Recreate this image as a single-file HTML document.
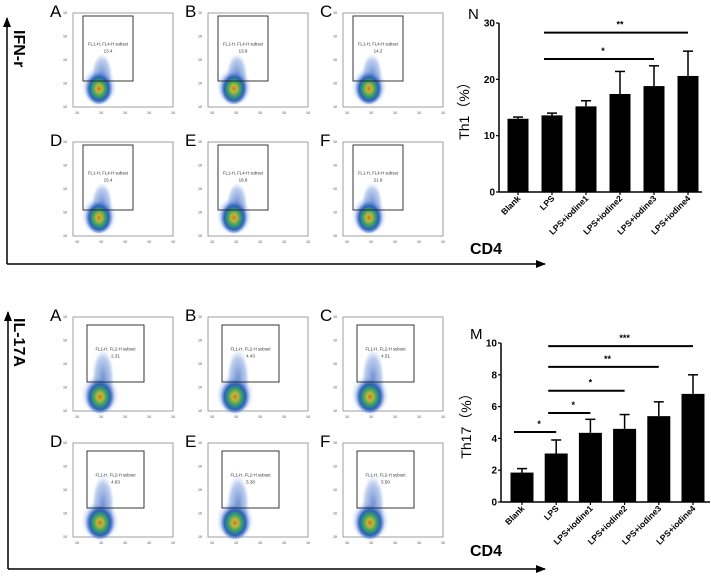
<!DOCTYPE html>
<html><head><meta charset="utf-8"><style>
html,body{margin:0;padding:0;background:#fff;}
svg{display:block;font-family:"Liberation Sans",Arial,sans-serif;}
</style></head><body>
<svg id="fig" width="711" height="577" viewBox="0 0 711 577" xmlns="http://www.w3.org/2000/svg">
<defs>
<radialGradient id="blob" cx="50%" cy="55%" r="50%">
<stop offset="0" stop-color="#d07020"/>
<stop offset="0.2" stop-color="#c0b838"/>
<stop offset="0.45" stop-color="#38a068"/>
<stop offset="0.7" stop-color="#2a60b8"/>
<stop offset="1" stop-color="#7090e0" stop-opacity="0"/>
</radialGradient>
<radialGradient id="haze" cx="50%" cy="50%" r="50%">
<stop offset="0" stop-color="#3a68c0" stop-opacity="0.75"/>
<stop offset="0.7" stop-color="#6a90d8" stop-opacity="0.45"/>
<stop offset="1" stop-color="#a0b8ec" stop-opacity="0"/>
</radialGradient>
<marker id="arr" markerWidth="10" markerHeight="8" refX="9" refY="4" orient="auto" markerUnits="userSpaceOnUse"><path d="M0,0 L10,4 L0,8 z" fill="#000"/></marker>
</defs>
<g>
<line x1="7" y1="264" x2="7" y2="18" stroke="#000" stroke-width="1.5" marker-end="url(#arr)"/>
<line x1="7" y1="264" x2="545" y2="264" stroke="#000" stroke-width="1.5" marker-end="url(#arr)"/>
<text transform="translate(14,30) rotate(90)" font-size="16" font-weight="bold">IFN-r</text>
</g>
<g>
<line x1="8" y1="569" x2="8" y2="312" stroke="#000" stroke-width="1.5" marker-end="url(#arr)"/>
<line x1="8" y1="569" x2="545" y2="569" stroke="#000" stroke-width="1.5" marker-end="url(#arr)"/>
<text transform="translate(14,318) rotate(90)" font-size="16" font-weight="bold">IL-17A</text>
</g>
<g id="flows"></g>
<g id="chartN"></g>
<g id="chartM"></g>
</svg>
<script>
const NS="http://www.w3.org/2000/svg";
function mk(p,tag,at,txt){const e=document.createElementNS(NS,tag);for(const k in at)e.setAttribute(k,at[k]);if(txt!==undefined)e.textContent=txt;p.appendChild(e);return e;}

const flowLetters=["A","B","C","D","E","F"];
const ifnValues=["13.4","13.9","14.2","15.4","18.9","21.9"];
const il17Values=["2.31","4.43","4.51","4.83","5.38","5.50"];
const flows=document.getElementById('flows');
function panel(x0,y0,letter,gateName,val,gx,gy,gw,gh,bx,by,brx,bry,top){
  const g=mk(flows,'g',{});
  
  
  const L=mk(g,'text',{x:x0-23,y:y0+4,'font-size':17},letter);
  
  mk(g,'rect',{x:x0,y:y0,width:100,height:94,fill:'none',stroke:'#888','stroke-width':0.8});
  mk(g,'ellipse',{cx:x0+bx+3,cy:top,rx:brx*0.75,ry:(y0+by-top)*0.9,fill:'url(#haze)',transform:`translate(0,${(y0+by-top)*0.5})`});
  mk(g,'ellipse',{cx:x0+bx,cy:y0+by,rx:brx*1.25,ry:bry*1.15,fill:'url(#haze)'});
  mk(g,'ellipse',{cx:x0+bx,cy:y0+by,rx:brx,ry:bry,fill:'url(#blob)'});
  mk(g,'rect',{x:x0+gx,y:y0+gy,width:gw,height:gh,fill:'none',stroke:'#222','stroke-width':0.9});
  mk(g,'text',{x:x0+gx+gw/2,y:y0+gy+gh*0.45,'font-size':4.3,'text-anchor':'middle',fill:'#333'},gateName);
  mk(g,'text',{x:x0+gx+gw/2,y:y0+gy+gh*0.45+7,'font-size':4.5,'text-anchor':'middle',fill:'#333'},val);
  for(let i=0;i<5;i++){
    mk(g,'text',{x:x0-10,y:y0+94-i*23.5+1,'font-size':3.6,fill:'#444'},'10');
    mk(g,'text',{x:x0+2+i*24,y:y0+101,'font-size':3.6,fill:'#444'},'10');
  }
}
const colX=[73,208,343];
[13,142].forEach((ry,r)=>colX.forEach((cx,c)=>{const i=r*3+c;
  panel(cx,ry,flowLetters[i],"FL1-H, FL4-H subset",ifnValues[i],10,3,50,65,26,74,14,17,ry+50);}));
[317,443].forEach((ry,r)=>colX.forEach((cx,c)=>{const i=r*3+c;
  panel(cx,ry,flowLetters[i],"FL1-H, FL2-H subset",il17Values[i],14,8,57,57,27,78,15,18,ry+45);}));

const categories=["Blank","LPS","LPS+iodine1","LPS+iodine2","LPS+iodine3","LPS+iodine4"];
const th1Values=[13.0,13.6,15.2,17.4,18.8,20.6];
const th1Errors=[0.3,0.4,1.0,4.0,3.6,4.4];
const th1Ticks=[0,10,20,30];
const th1Sig=[[1,5,"**",28.3],[1,4,"*",23.6]];
const th17Values=[1.85,3.05,4.35,4.6,5.4,6.8];
const th17Errors=[0.25,0.85,0.85,0.9,0.9,1.2];
const th17Ticks=[0,2,4,6,8,10];
const th17Sig=[[0,1,"*",4.4],[1,2,"*",5.6],[1,3,"*",7.0],[1,4,"**",8.5],[1,5,"***",9.8]];

function chart(id,o){
  const g=document.getElementById(id);
  const y=v=>o.y0-(v-o.min)/(o.max-o.min)*(o.y0-o.y1);
  const x=i=>o.x0+o.first+i*o.step;
  mk(g,'line',{x1:o.x0,y1:y(o.max),x2:o.x0,y2:o.y0,stroke:'#000','stroke-width':1.5});
  mk(g,'line',{x1:o.x0,y1:o.y0,x2:o.xEnd,y2:o.y0,stroke:'#000','stroke-width':1.5});
  o.ticks.forEach(t=>{
    mk(g,'line',{x1:o.x0-3,y1:y(t),x2:o.x0,y2:y(t),stroke:'#000','stroke-width':1.2});
    const tl=mk(g,'text',{x:o.x0-4,y:y(t)+3.5,'font-size':10,'font-weight':'bold','text-anchor':'end'},t);
    
  });
  o.vals.forEach((v,i)=>{
    const b=mk(g,'rect',{x:x(i)-o.bw/2,y:y(v),width:o.bw,height:o.y0-y(v),fill:'#000'});
    
    const e=v+o.errs[i];
    mk(g,'line',{x1:x(i),y1:y(v),x2:x(i),y2:y(e),stroke:'#000','stroke-width':1.5});
    mk(g,'line',{x1:x(i)-5,y1:y(e),x2:x(i)+5,y2:y(e),stroke:'#000','stroke-width':1.5});
    mk(g,'line',{x1:x(i),y1:o.y0,x2:x(i),y2:o.y0+3,stroke:'#000','stroke-width':1.2});
    const cl=mk(g,'text',{transform:`translate(${x(i)+3},${o.y0+7}) rotate(-45)`,'font-size':8.5,'font-weight':'bold','text-anchor':'end'},categories[i]);
    
  });
  o.sig.forEach(s=>{
    const l=mk(g,'line',{x1:x(s[0])-8,y1:y(s[3]),x2:x(s[1]),y2:y(s[3]),stroke:'#000','stroke-width':2});
    
    mk(g,'text',{x:(x(s[0])+x(s[1]))/2,y:y(s[3])-5,'font-size':9,'font-weight':'bold','text-anchor':'middle'},s[2]);
  });
  const yt=mk(g,'text',{transform:`translate(${o.x0-30},${(o.y0+o.y1)/2}) rotate(-90)`,'font-size':14,'text-anchor':'middle'},o.ylab);
  
  const pl=mk(g,'text',{x:o.x0-31,y:o.y1-4,'font-size':15},o.letter);
  
  const cd=mk(g,'text',{x:470,y:o.cdY,'font-size':16,'font-weight':'bold'},'CD4');
  
}
chart('chartN',{x0:499,y0:192,y1:23,min:0,max:30,xEnd:702,first:19,step:34,bw:21,vals:th1Values,errs:th1Errors,ticks:th1Ticks,sig:th1Sig,ylab:'Th1（%）',letter:'N',cdY:254});
chart('chartM',{x0:501,y0:502,y1:343,min:0,max:10,xEnd:710,first:21,step:34.2,bw:23,vals:th17Values,errs:th17Errors,ticks:th17Ticks,sig:th17Sig,ylab:'Th17（%）',letter:'M',cdY:556});
</script>
</body></html>
